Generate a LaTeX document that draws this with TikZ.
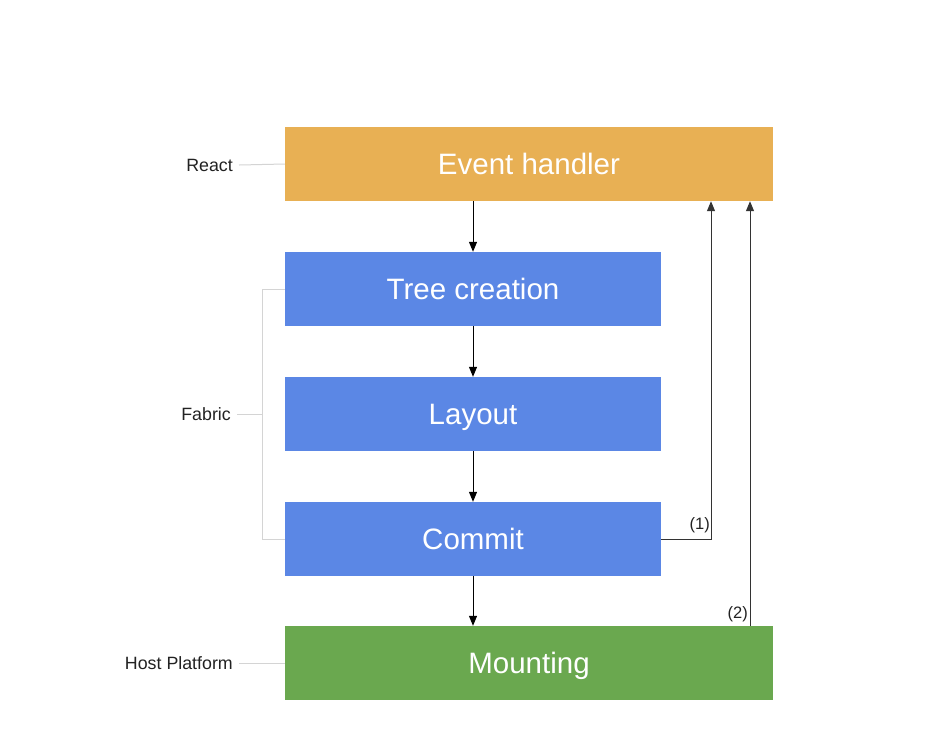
\documentclass[tikz,border=0pt]{standalone}
\usepackage{fontspec}
\setmainfont{Liberation Sans}
\usetikzlibrary{arrows.meta}
\definecolor{orangebox}{HTML}{E8B054}
\definecolor{bluebox}{HTML}{5B87E5}
\definecolor{greenbox}{HTML}{6AA84F}
\definecolor{guide}{HTML}{D4D4D4}
\definecolor{txt}{HTML}{222222}
\tikzset{
  box/.style={draw=none, inner sep=0pt, minimum height=74pt, text=white, text height=20pt, text depth=0pt, font=\fontsize{29.5}{32}\selectfont},
  widebox/.style={box, minimum width=488pt},
  narrowbox/.style={box, minimum width=376pt, fill=bluebox},
  sidelabel/.style={anchor=east, inner sep=0pt, text=txt, font=\fontsize{17.8}{20}\selectfont},
  numlabel/.style={anchor=east, inner sep=0pt, text=txt, font=\fontsize{16.5}{18}\selectfont},
  guideline/.style={draw=guide, line width=1pt},
  arr/.style={draw=black, line width=1pt, -{Triangle[length=10pt,width=8pt]}},
  retline/.style={draw=black!80, line width=1pt, -{Triangle[length=10pt,width=8pt]}}
}
\begin{document}
\begin{tikzpicture}[x=1pt,y=-1pt]
\path[use as bounding box, fill=white] (0,0) rectangle (934,740);
% boxes
\node[widebox, fill=orangebox] (eh) at (529,164) {Event handler};
\node[narrowbox] (tc) at (473,289) {Tree creation};
\node[narrowbox] (ly) at (473,414) {Layout};
\node[narrowbox] (cm) at (473,539) {Commit};
\node[widebox, fill=greenbox] (mt) at (529,663) {Mounting};
% side labels
\node[sidelabel] (react) at (233,165) {React};
\node[sidelabel] (fabric) at (231,414) {Fabric};
\node[sidelabel] (host) at (233,663) {Host Platform};
\coordinate (br) at (262,414);
\draw[guideline] ([xshift=6pt]react.east) -- (eh.west);
\draw[guideline] ([xshift=6pt]host.east) -- (mt.west);
\draw[guideline] ([xshift=6pt]fabric.east) -- (br);
\draw[guideline] (tc.west) -- (tc.west -| br) -- (cm.west -| br) -- (cm.west);
% main flow
\draw[arr] (eh.south -| tc) -- (tc.north);
\draw[arr] (tc) -- (ly);
\draw[arr] (ly) -- (cm);
\draw[arr] (cm.south) -- (mt.north -| cm);
% return paths
\coordinate (x1) at (711,539);
\coordinate (x2) at (750,600);
\draw[retline] (cm.east) -- (x1) -- (eh.south -| x1);
\draw[retline] (mt.north -| x2) -- (eh.south -| x2);
\node[numlabel] (l1) at (710,525) {(1)};
\node[numlabel] (l2) at (748,614) {(2)};
\end{tikzpicture}
\end{document}
